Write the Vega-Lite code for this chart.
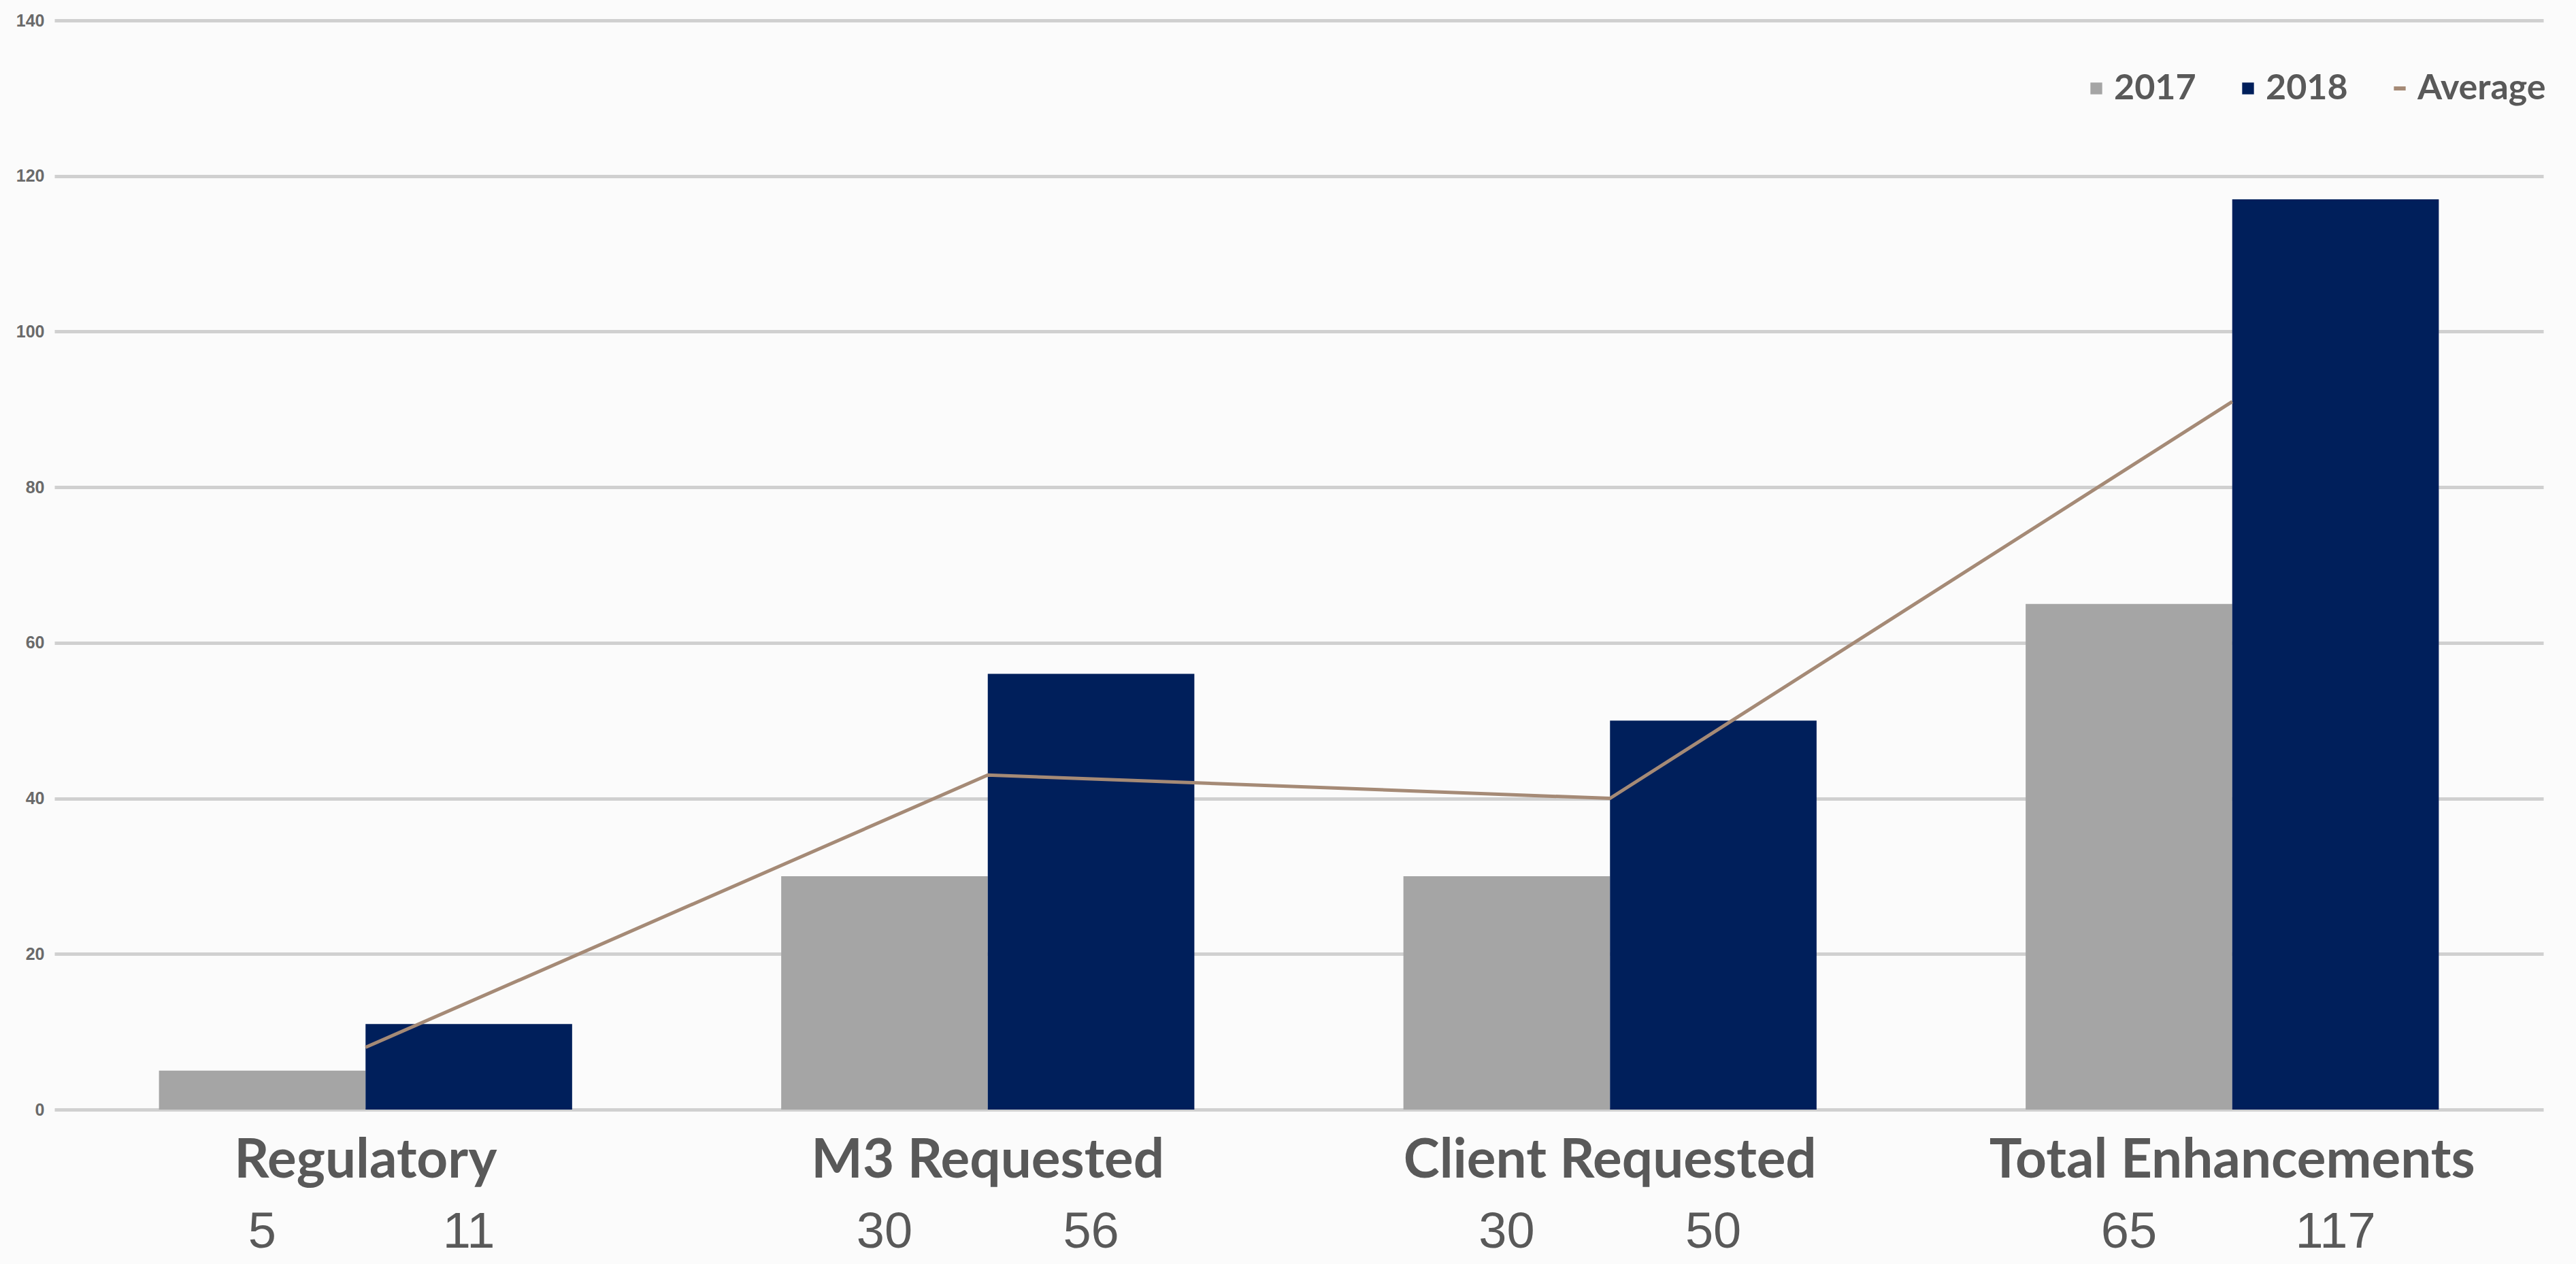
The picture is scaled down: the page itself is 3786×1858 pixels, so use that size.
{
  "$schema": "https://vega.github.io/schema/vega-lite/v6.json",
  "autosize": {"type": "none"},
  "width": 3658,
  "height": 1601,
  "padding": {"left": 80, "top": 30, "right": 48, "bottom": 227},
  "background": "#fbfbfb",
  "datasets": {
    "bars": [
      {"category": "Regulatory", "year": "2017", "value": 5},
      {"category": "Regulatory", "year": "2018", "value": 11},
      {"category": "M3 Requested", "year": "2017", "value": 30},
      {"category": "M3 Requested", "year": "2018", "value": 56},
      {"category": "Client Requested", "year": "2017", "value": 30},
      {"category": "Client Requested", "year": "2018", "value": 50},
      {"category": "Total Enhancements", "year": "2017", "value": 65},
      {"category": "Total Enhancements", "year": "2018", "value": 117}
    ],
    "avg": [
      {"category": "Regulatory", "series": "Average", "value": 8},
      {"category": "M3 Requested", "series": "Average", "value": 43},
      {"category": "Client Requested", "series": "Average", "value": 40},
      {"category": "Total Enhancements", "series": "Average", "value": 91}
    ]
  },
  "config": {
    "view": {"stroke": null},
    "font": "Lato"
  },
  "encoding": {
    "x": {
      "field": "category",
      "type": "nominal",
      "sort": ["Regulatory", "M3 Requested", "Client Requested", "Total Enhancements"],
      "scale": {"paddingInner": 0.336, "paddingOuter": 0.168},
      "axis": {
        "title": null,
        "domain": false,
        "ticks": false,
        "labelAngle": 0,
        "labelFont": "Lato",
        "labelFontSize": 80,
        "labelFontWeight": "bold",
        "labelColor": "#595959",
        "labelPadding": 99,
        "labelBaseline": "alphabetic",
        "labelLimit": 0,
        "labelOverlap": false
      }
    }
  },
  "layer": [
    {
      "data": {"name": "bars"},
      "mark": {"type": "bar"},
      "encoding": {
        "xOffset": {"field": "year", "type": "nominal", "scale": {"paddingInner": 0, "paddingOuter": 0}},
        "y": {
          "field": "value",
          "type": "quantitative",
          "scale": {"domain": [0, 140], "nice": false},
          "axis": {
            "title": null,
            "values": [0, 20, 40, 60, 80, 100, 120, 140],
            "domain": false,
            "ticks": false,
            "grid": true,
            "gridColor": "#d0d0d0",
            "gridWidth": 5,
            "labelFont": "Liberation Sans",
            "labelFontSize": 25,
            "labelFontWeight": "bold",
            "labelColor": "#6a6a6a",
            "labelPadding": 15
          }
        },
        "color": {
          "field": "year",
          "type": "nominal",
          "scale": {"domain": ["2017", "2018", "Average"], "range": ["#a5a5a5", "#001f5b", "#a58a76"]},
          "legend": {
            "title": null,
            "orient": "none",
            "direction": "horizontal",
            "legendX": 2975,
            "legendY": 74,
            "labelFont": "Lato",
            "labelFontSize": 52,
            "labelFontWeight": "bold",
            "labelColor": "#595959",
            "labelOffset": 0,
            "labelLimit": 0,
            "columnPadding": 50,
            "symbolSize": 300,
            "encode": {
              "symbols": {
                "update": {
                  "shape": {"signal": "datum.value === 'Average' ? 'stroke' : 'square'"},
                  "fill": {"signal": "scale('color', datum.value)"},
                  "stroke": {"signal": "scale('color', datum.value)"},
                  "strokeWidth": {"signal": "datum.value === 'Average' ? 6 : 0"}
                }
              }
            }
          }
        }
      }
    },
    {
      "data": {"name": "avg"},
      "mark": {"type": "line", "strokeWidth": 5},
      "encoding": {
        "y": {"field": "value", "type": "quantitative"},
        "color": {"field": "series", "type": "nominal"}
      }
    },
    {
      "data": {"name": "bars"},
      "mark": {"type": "text", "font": "Liberation Sans", "fontSize": 74, "color": "#595959", "baseline": "alphabetic", "dy": 203},
      "encoding": {
        "xOffset": {"field": "year", "type": "nominal"},
        "y": {"datum": 0, "type": "quantitative"},
        "text": {"field": "value", "type": "quantitative"}
      }
    }
  ]
}
